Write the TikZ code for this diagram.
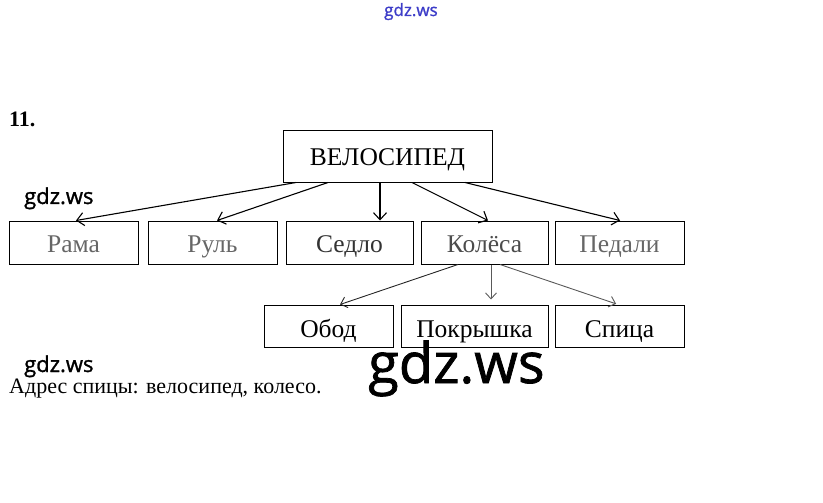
\documentclass[tikz,border=0pt]{standalone}
\usepackage{fontspec}
\setmainfont{Liberation Serif}
\newfontfamily\wmfont[FakeBold=1.3]{Open Sans}
\usetikzlibrary{arrows.meta,calc}
\begin{document}
\begin{tikzpicture}[x=1pt,y=-1pt,
  box/.style={draw,line width=1pt,inner sep=0pt,text depth=0pt,font=\fontsize{25.5}{25.5}\selectfont},
  rowa/.style={box,minimum height=43pt,text height=19pt},
  rowb/.style={box,minimum height=42pt,text height=22pt},
  arr/.style={line width=1.1pt,-{Straight Barb[length=7pt,width=13pt,line width=1.1pt]}},
  arrg/.style={line width=0.9pt,draw=black!65,-{Straight Barb[length=6pt,width=11pt,line width=0.9pt]}},
  wm/.style={font=\wmfont\fontsize{22}{22}\selectfont,anchor=base west,inner sep=0pt}]
\useasboundingbox (0,0) rectangle (823,503);
\node[anchor=base west,inner sep=0pt,font=\bfseries\fontsize{22}{22}\selectfont] (num) at (9,126) {11.};
\node[box,minimum width=209pt,minimum height=51pt,text height=17pt] (velo) at (387.5,156.5) {ВЕЛОСИПЕД};
\node[rowa,minimum width=129pt,text=black!60] (rama) at (73.5,242.5) {Рама};
\node[rowa,minimum width=129pt,text=black!60] (rul) at (212.5,242.5) {Руль};
\node[rowa,minimum width=127pt,text=black!80] (sedlo) at (349.5,242.5) {Седло};
\node[rowa,minimum width=127pt,text=black!70] (kol) at (484.5,242.5) {Колёса};
\node[rowa,minimum width=129pt,text=black!60] (ped) at (619.5,242.5) {Педали};
\node[rowb,minimum width=129pt] (obod) at (328.5,326) {Обод};
\node[rowb,minimum width=147pt] (pokr) at (474.5,326) {Покрышка};
\node[rowb,minimum width=129pt] (spica) at (619.5,326) {Спица};
\draw[arr] ([xshift=-91.5pt]velo.south) -- ([xshift=2.5pt]rama.north);
\draw[arr] ([xshift=-59.5pt]velo.south) -- ([xshift=4.5pt]rul.north);
\draw[arr] ([xshift=-7.5pt]velo.south) -- ([xshift=30.5pt]sedlo.north);
\draw[arr] ([xshift=24.5pt]velo.south) -- ([xshift=3.5pt]kol.north);
\draw[arr] ([xshift=77.5pt]velo.south) -- ([xshift=0.5pt]ped.north);
\draw[arrg,draw=black!85] ([xshift=-26.5pt]kol.south) -- ([xshift=11.5pt]obod.north);
\draw[arrg,shorten >=5pt] ([xshift=6.5pt]kol.south) -- ([xshift=16.5pt]pokr.north);
\draw[arrg,shorten >=2pt] ([xshift=15.5pt]kol.south) -- ([xshift=-1.5pt]spica.north);
\node[anchor=base west,inner sep=0pt,font=\fontsize{22}{22}\selectfont] (addr) at (9,393) {Адрес спицы: велосипед, колесо.};
\node[wm] (wm1) at (24,204) {gdz.ws};
\node[wm] (wm2) at (24,372) {gdz.ws};
\node[wm,font=\wmfont\fontsize{56}{56}\selectfont] (wm3) at (368,383) {gdz.ws};
\node[wm,font=\wmfont\fontsize{17}{17}\selectfont,text={rgb,255:red,60;green,60;blue,200}] (wm4) at (384,16) {gdz.ws};
\end{tikzpicture}
\end{document}
